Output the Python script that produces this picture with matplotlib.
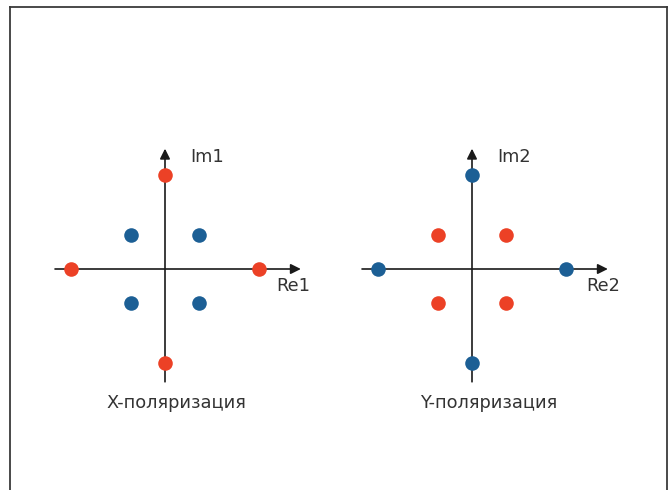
import matplotlib
matplotlib.use("Agg")
import matplotlib.pyplot as plt
from matplotlib.lines import Line2D

plt.rcParams["font.family"] = ["DejaVu Sans"]

# constellation points (normalised, outer amplitude = 1)
AXIS_I = [0, 0, 1, -1]
AXIS_Q = [1, -1, 0, 0]
DIAG_I = [-0.36, 0.36, -0.36, 0.36]
DIAG_Q = [0.36, 0.36, -0.36, -0.36]

PANELS = ["X", "Y"]
RE_LABELS = ["Re1", "Re2"]
IM_LABELS = ["Im1", "Im2"]
CAPTIONS = ["X-поляризация", "Y-поляризация"]

RED = "#EC4126"
BLUE = "#1C5F95"
INK = "#1a1a1a"
TXT = "#333333"

W, H = 671, 490
PX = 94.0  # pixels per unit
HALF = 150  # half-size of each panel axes in px

fig = plt.figure(figsize=(W / 100, H / 100), dpi=100)

# outer frame (open at the bottom)
for xs, ys in [([9.5, 9.5], [H, 7]), ([9.5, 666.5], [7, 7]), ([666.5, 666.5], [7, H])]:
    fig.add_artist(Line2D([x / W for x in xs], [1 - y / H for y in ys],
                          transform=fig.transFigure, color="#3a3a3a", lw=1.3))

origins = [(165, 269), (472, 269)]
cap_dx = [0.12, 0.18]
re_dx = [1.18, 1.22]

for k, (ox, oy) in enumerate(origins):
    ax = fig.add_axes([(ox - HALF) / W, (H - oy - HALF) / H, 2 * HALF / W, 2 * HALF / H])
    lim = HALF / PX
    ax.set_xlim(-lim, lim)
    ax.set_ylim(-lim, lim)
    ax.axis("off")

    arrow = dict(arrowstyle="-|>", mutation_scale=15, lw=1.2, color=INK,
                 shrinkA=0, shrinkB=0)
    ax.annotate("", xy=(1.445, 0), xytext=(-1.17, 0), arrowprops=arrow)
    ax.annotate("", xy=(0, 1.28), xytext=(0, -1.2), arrowprops=arrow)

    axis_col, diag_col = (RED, BLUE) if PANELS[k] == "X" else (BLUE, RED)
    ax.scatter(AXIS_I, AXIS_Q, s=110, color=axis_col, zorder=3, linewidths=0)
    ax.scatter(DIAG_I, DIAG_Q, s=110, color=diag_col, zorder=3, linewidths=0)

    ax.text(0.27, 1.19, IM_LABELS[k], ha="left", va="center", fontsize=12.8, color=TXT)
    ax.text(re_dx[k], -0.18, RE_LABELS[k], ha="left", va="center", fontsize=12.8, color=TXT)
    ax.text(cap_dx[k], -1.43, CAPTIONS[k], ha="center", va="center", fontsize=12.8, color=TXT)

fig.savefig("out.png", dpi=100)
